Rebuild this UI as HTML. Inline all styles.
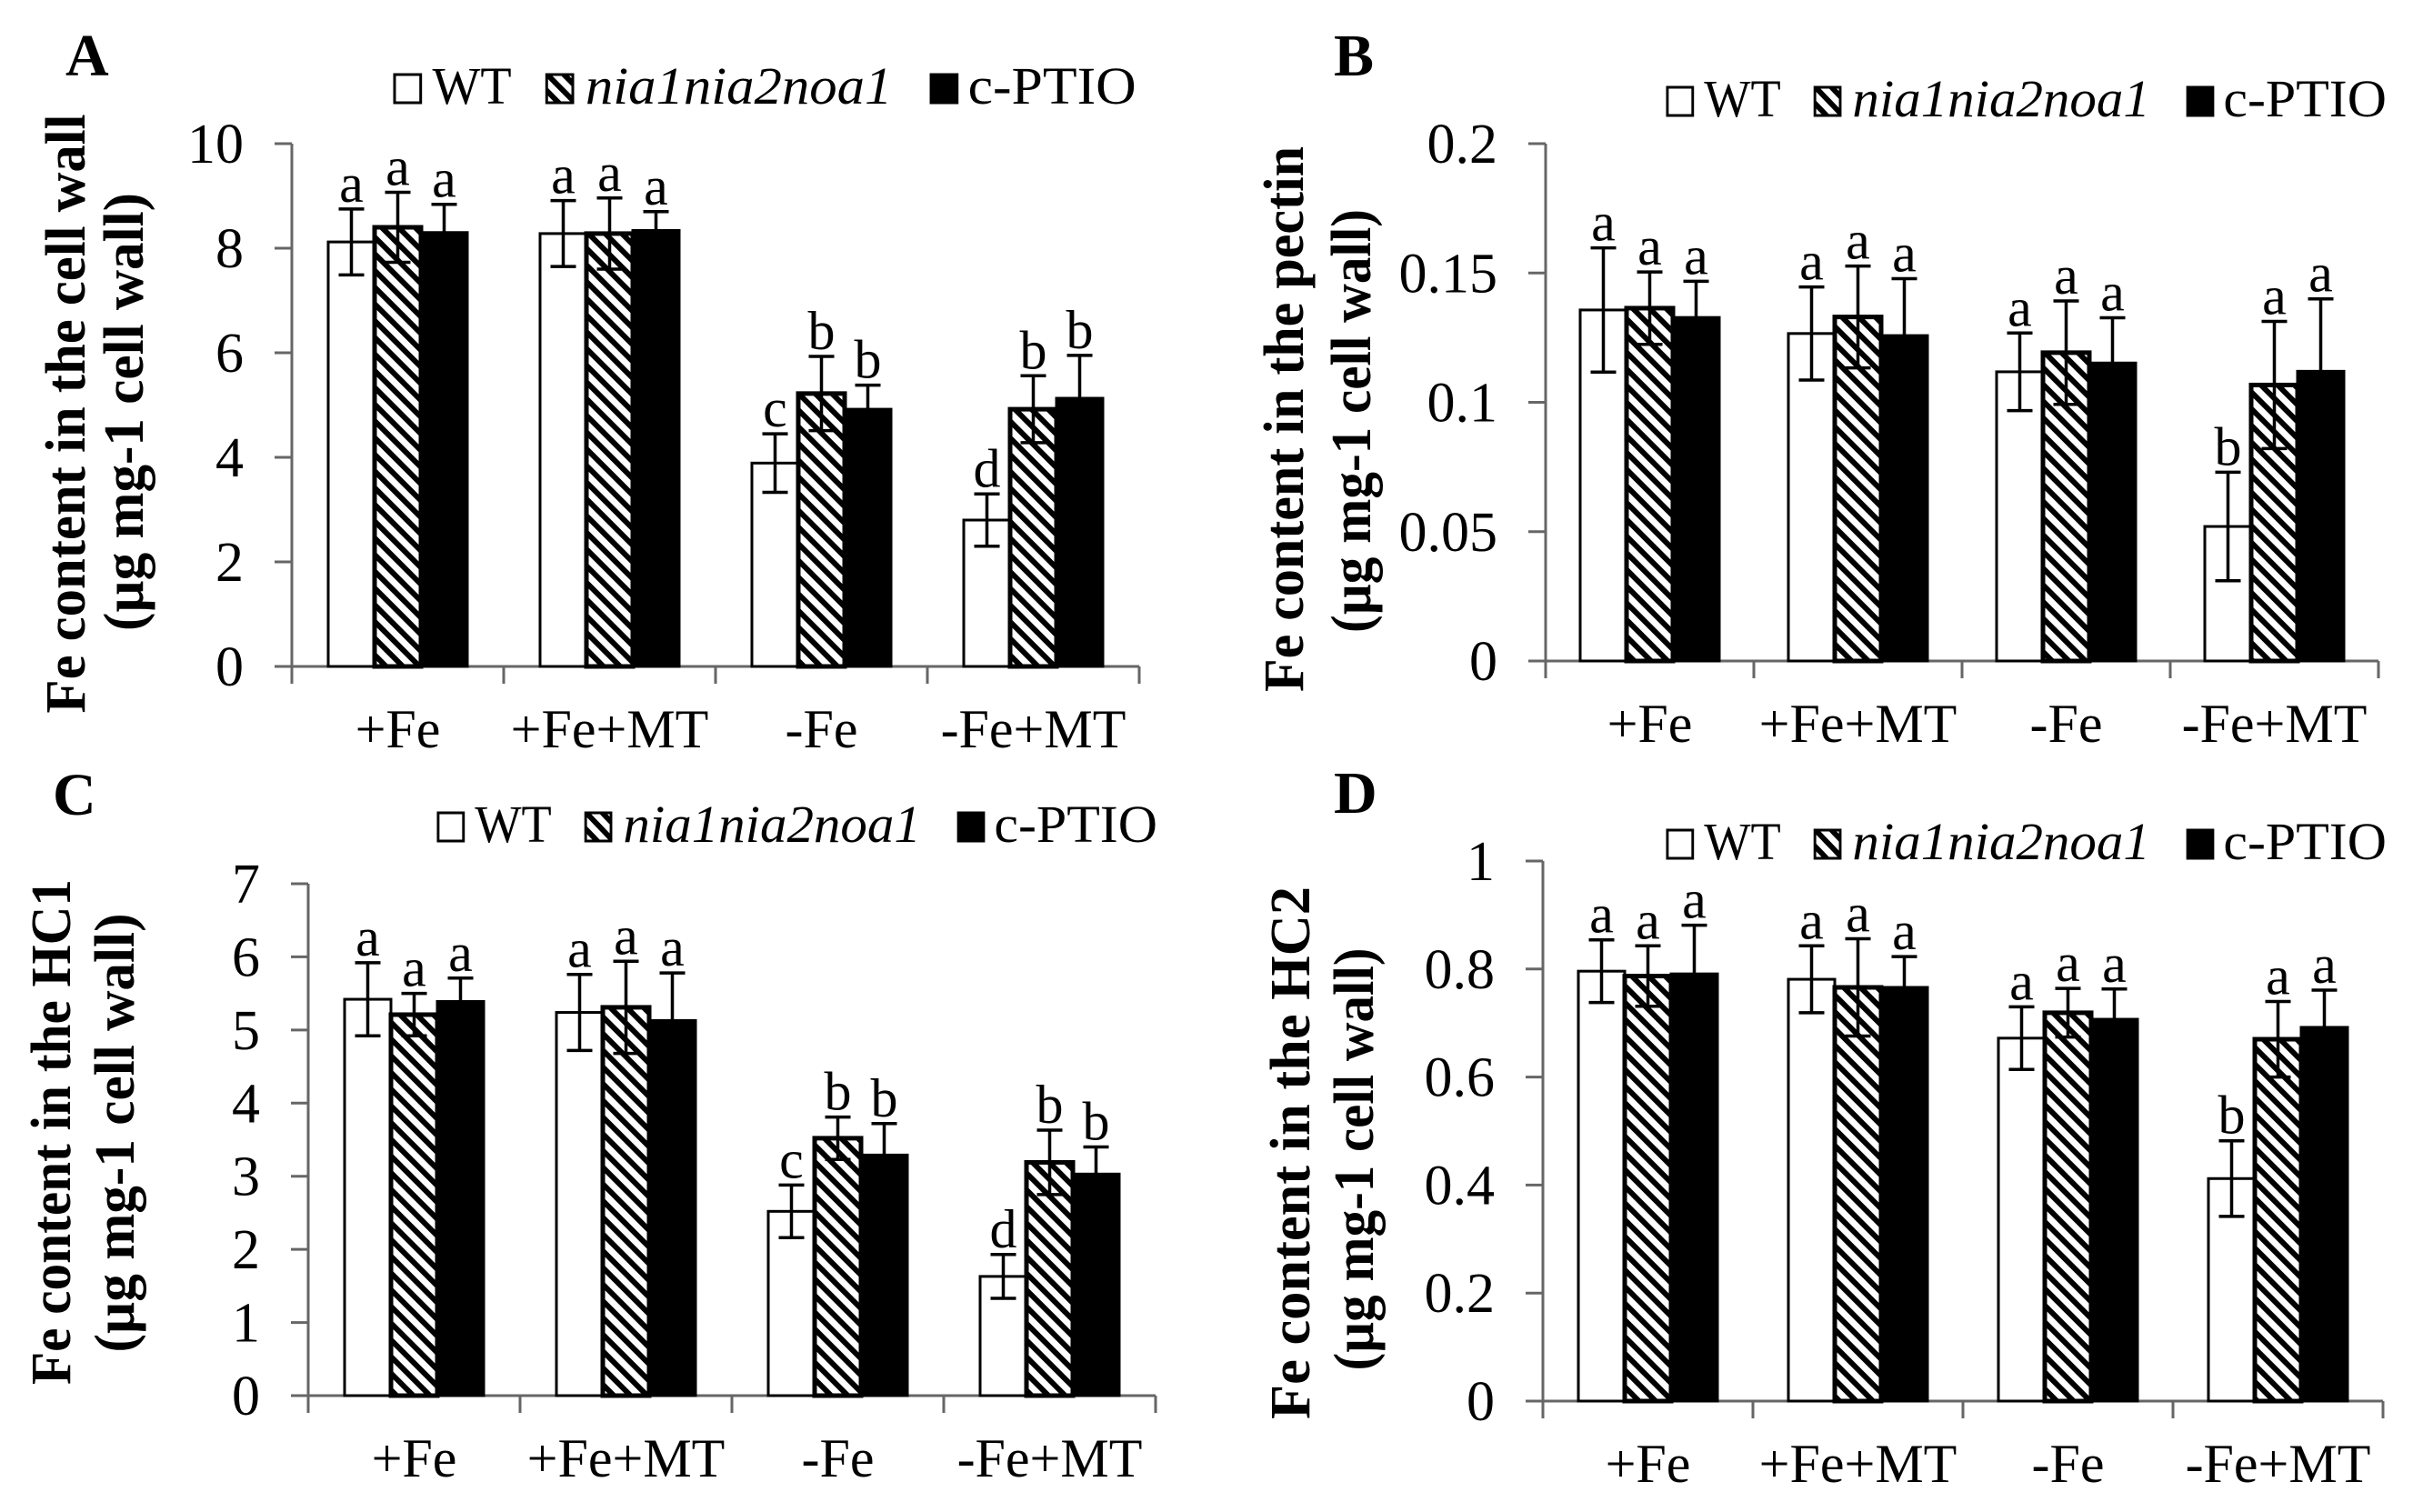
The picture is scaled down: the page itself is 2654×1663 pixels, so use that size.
<!DOCTYPE html>
<html><head><meta charset="utf-8"><style>
html,body{margin:0;padding:0;background:#fff;}
svg{display:block;font-family:"Liberation Serif",serif;}
</style></head><body>
<svg id="fig" width="2654" height="1663" viewBox="0 0 2654 1663" xmlns="http://www.w3.org/2000/svg">
<defs>
<pattern id="hatch" patternUnits="userSpaceOnUse" width="13" height="13" patternTransform="rotate(-45)">
<rect width="13" height="13" fill="#fff"/>
<rect x="0" y="0" width="6" height="13" fill="#000"/>
</pattern>
</defs>
</svg>
<script>
const categories = ["+Fe", "+Fe+MT", "-Fe", "-Fe+MT"];
const seriesNames = ["WT", "nia1nia2noa1", "c-PTIO"];

// Panel A: cell wall
const aWT = [8.12, 8.28, 3.89, 2.80];
const aNia = [8.40, 8.28, 5.22, 4.92];
const aPtio = [8.30, 8.34, 4.92, 5.13];
const aErrWT = [0.63, 0.63, 0.56, 0.50];
const aErrNia = [0.67, 0.68, 0.71, 0.64];
const aErrPtio = [0.54, 0.36, 0.46, 0.82];
const aLetters = [["a","a","a"],["a","a","a"],["c","b","b"],["d","b","b"]];
const aTicks = [0, 2, 4, 6, 8, 10];
const aTickLabels = ["0","2","4","6","8","10"];

// Panel B: pectin
const bWT = [0.1357, 0.1266, 0.1118, 0.052];
const bNia = [0.1364, 0.133, 0.1192, 0.1067];
const bPtio = [0.1328, 0.1258, 0.1152, 0.112];
const bErrWT = [0.024, 0.018, 0.015, 0.021];
const bErrNia = [0.014, 0.0197, 0.020, 0.0246];
const bErrPtio = [0.014, 0.022, 0.0175, 0.028];
const bLetters = [["a","a","a"],["a","a","a"],["a","a","a"],["b","a","a"]];
const bTicks = [0, 0.05, 0.1, 0.15, 0.2];
const bTickLabels = ["0","0.05","0.1","0.15","0.2"];

// Panel C: HC1
const cWT = [5.42, 5.24, 2.52, 1.63];
const cNia = [5.21, 5.31, 3.52, 3.19];
const cPtio = [5.39, 5.13, 3.29, 3.03];
const cErrWT = [0.50, 0.52, 0.36, 0.30];
const cErrNia = [0.29, 0.63, 0.29, 0.44];
const cErrPtio = [0.32, 0.65, 0.43, 0.37];
const cLetters = [["a","a","a"],["a","a","a"],["c","b","b"],["d","b","b"]];
const cTicks = [0,1,2,3,4,5,6,7];
const cTickLabels = ["0","1","2","3","4","5","6","7"];

// Panel D: HC2
const dWT = [0.796, 0.781, 0.672, 0.412];
const dNia = [0.787, 0.766, 0.719, 0.670];
const dPtio = [0.791, 0.766, 0.707, 0.692];
const dErrWT = [0.058, 0.062, 0.058, 0.070];
const dErrNia = [0.056, 0.090, 0.045, 0.070];
const dErrPtio = [0.090, 0.057, 0.056, 0.069];
const dLetters = [["a","a","a"],["a","a","a"],["a","a","a"],["b","a","a"]];
const dTicks = [0, 0.2, 0.4, 0.6, 0.8, 1];
const dTickLabels = ["0","0.2","0.4","0.6","0.8","1"];

const NS = "http://www.w3.org/2000/svg";
const svg = document.getElementById("fig");
function mk(tag, attrs, parent, text){
  const e = document.createElementNS(NS, tag);
  for (const k in attrs) e.setAttribute(k, attrs[k]);
  if (text !== undefined) e.textContent = text;
  (parent || svg).appendChild(e);
  return e;
}

function drawPanel(p){
  const g = mk("g", {});
  
  
  const yScale = v => p.y0 - (v / p.max) * (p.y0 - p.yTop);
  const xEnd = p.ax + 4 * p.cw;
  const pl = mk("text", {x: p.lx, y: p.ly, "font-size": 66, "font-weight": "bold"}, g, p.id);
  
  
  const ya = mk("line", {x1: p.ax, y1: p.yTop, x2: p.ax, y2: p.y0, stroke: "#666", "stroke-width": 3}, g);
  
  
  p.ticks.forEach((t, i) => {
    const y = yScale(t);
    const tk = mk("line", {x1: p.ax - 19, y1: y, x2: p.ax, y2: y, stroke: "#666", "stroke-width": 3}, g);
    
    
    const tl = mk("text", {x: p.ax - 53, y: y + 21, "font-size": 62, "text-anchor": "end"}, g, p.tickLabels[i]);
    
    
  });
  const xa = mk("line", {x1: p.ax - 19, y1: p.y0, x2: xEnd, y2: p.y0, stroke: "#666", "stroke-width": 3}, g);
  
  
  for (let i = 0; i <= 4; i++) {
    const x = p.ax + i * p.cw;
    const xt = mk("line", {x1: x, y1: p.y0, x2: x, y2: p.y0 + 19, stroke: "#666", "stroke-width": 3}, g);
    
    
  }
  const series = [p.wt, p.nia, p.ptio];
  const errs = [p.eWT, p.eNia, p.ePtio];
  const fills = ["#fff", "url(#hatch)", "#000"];
  const bw = 51;
  categories.forEach((c, ci) => {
    const gx = p.ax + ci * p.cw + (p.cw - 3 * bw) / 2;
    const cl = mk("text", {x: p.ax + (ci + 0.5) * p.cw, y: p.y0 + 89, "font-size": 60, "text-anchor": "middle"}, g, c);
    
    
    series.forEach((s, si) => {
      const v = s[ci], e = errs[si][ci];
      const x = gx + si * bw;
      const yv = yScale(v);
      const r = mk("rect", {x: x, y: yv, width: bw, height: p.y0 - yv, fill: fills[si], stroke: "#000", "stroke-width": si === 1 ? 5 : 3}, g);
      
      
      const cx = x + bw / 2;
      const yt = yScale(v + e), yb = yScale(v - e);
      const el = mk("path", {d: `M${cx},${yt}V${yb}M${cx-14},${yt}H${cx+14}M${cx-14},${yb}H${cx+14}`, stroke: "#000", "stroke-width": 3.5, fill: "none"}, g);
      
      
      const lt = mk("text", {x: cx, y: yt - 8, "font-size": 60, "text-anchor": "middle"}, g, p.letters[ci][si]);
      
      
    });
  });
  const t1 = mk("text", {x: 0, y: 0, "font-size": 62, "font-weight": "bold", "text-anchor": "middle", textLength: p.t1len, lengthAdjust: "spacingAndGlyphs", transform: `translate(${p.t1x},${p.t1c}) rotate(-90)`}, g, p.title1);
  
  
  t1.setAttribute('xml:space', 'preserve');
  const t2 = mk("text", {x: 0, y: 0, "font-size": 62, "font-weight": "bold", "text-anchor": "middle", textLength: p.t2len, lengthAdjust: "spacingAndGlyphs", transform: `translate(${p.t2x},${p.t2c}) rotate(-90)`}, g, "(\u00b5g mg-1  cell wall)");
  
  
  const lg = mk("g", {transform: `translate(${p.legX},${p.legY}) scale(${p.legS},1)`}, g);
  
  
  const items = [
    {dx: 0, fill: "#fff", tx: 44, tl: 88, label: "WT", italic: false},
    {dx: 169, fill: "url(#hatch)", tx: 214, tl: 341, label: "nia1nia2noa1", italic: true},
    {dx: 596, fill: "#000", tx: 639, tl: 187, label: "c-PTIO", italic: false}
  ];
  items.forEach(it => {
    const b = mk("rect", {x: it.dx + 2, y: 2, width: 29, height: 31, fill: it.fill, stroke: "#000", "stroke-width": 3}, lg);
    
    
    const a = {x: it.tx, y: 34, "font-size": 58, textLength: it.tl, lengthAdjust: "spacingAndGlyphs"};
    if (it.italic) a["font-style"] = "italic";
    const t = mk("text", a, lg, it.label);
    
    
  });
}

drawPanel({id:"A", ax:321, y0:733, yTop:158, max:10, cw:233, ticks:aTicks, tickLabels:aTickLabels,
  wt:aWT, nia:aNia, ptio:aPtio, eWT:aErrWT, eNia:aErrNia, ePtio:aErrPtio, letters:aLetters,
  lx:72, ly:83, legX:432, legY:80, legS:0.99, title1:"Fe content  in the cell wall", t1x:93, t1c:455, t1len:659, t2x:157, t2c:453, t2len:482});
drawPanel({id:"B", ax:1700, y0:727, yTop:158, max:0.2, cw:229, ticks:bTicks, tickLabels:bTickLabels,
  wt:bWT, nia:bNia, ptio:bPtio, eWT:bErrWT, eNia:bErrNia, ePtio:bErrPtio, letters:bLetters,
  lx:1467, ly:83, legX:1832, legY:94, legS:0.96, title1:"Fe content  in the pectin", t1x:1433, t1c:461, t1len:600, t2x:1507, t2c:463, t2len:466});
drawPanel({id:"C", ax:339, y0:1535, yTop:972, max:7, cw:233, ticks:cTicks, tickLabels:cTickLabels,
  wt:cWT, nia:cNia, ptio:cPtio, eWT:cErrWT, eNia:cErrNia, ePtio:cErrPtio, letters:cLetters,
  lx:58, ly:896, legX:480, legY:892, legS:0.96, title1:"Fe content  in the HC1", t1x:77, t1c:1245, t1len:556, t2x:147, t2c:1246, t2len:483});
drawPanel({id:"D", ax:1697, y0:1541, yTop:947, max:1, cw:231, ticks:dTicks, tickLabels:dTickLabels,
  wt:dWT, nia:dNia, ptio:dPtio, eWT:dErrWT, eNia:dErrNia, ePtio:dErrPtio, letters:dLetters,
  lx:1467, ly:894, legX:1832, legY:911, legS:0.96, title1:"Fe content  in the HC2", t1x:1440, t1c:1268, t1len:586, t2x:1510, t2c:1275, t2len:465});
</script>
</body></html>
